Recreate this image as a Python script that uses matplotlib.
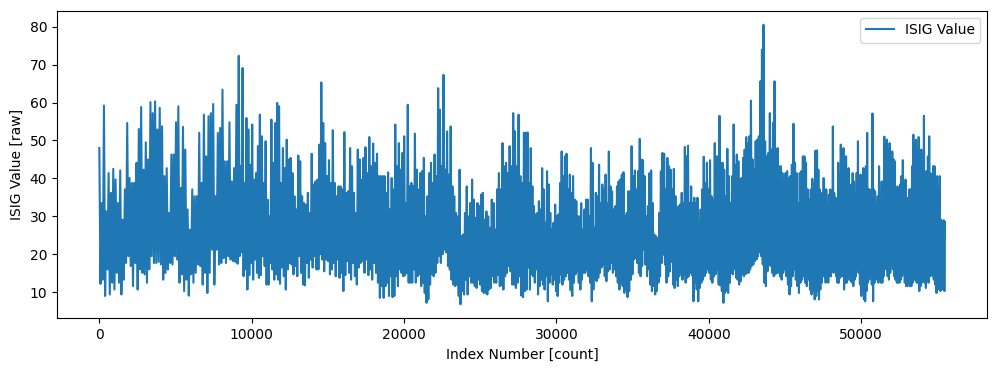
##ISIG trace, values (peak / dip per ~2 px column)
import numpy as np
import matplotlib
matplotlib.use("Agg")
from matplotlib import pyplot as plt

# index boundaries of the six stretches the trace was read in
seg_edges = [0, 9150, 18600, 28100, 37600, 47100, 55500]

# stretch 1 (0 .. 9150)
seg1_tops = [48.0, 33.5, 59.2, 31.3, 41.4, 36.2, 42.5, 39.7, 33.5, 42.1,
             29.1, 37.1, 54.6, 40.1, 38.8, 38.8, 44.1, 53.0, 58.8, 42.3,
             49.5, 45.0, 60.1, 57.2, 60.3, 52.9, 58.6, 53.7, 40.6, 42.7,
             30.9, 46.3, 46.3, 54.8, 59.0, 37.5, 53.6, 47.6, 31.8, 26.5,
             37.1, 35.3, 35.3, 52.0, 38.8, 56.8, 45.8, 56.4, 57.2, 59.6,
             35.3, 52.0, 53.3, 63.4, 44.5, 44.5, 54.8, 39.2, 42.7, 59.4]
seg1_lows = [12.2, 13.3, 9.0, 16.0, 9.4, 12.5, 10.7, 15.1, 12.5, 9.4,
             13.3, 17.7, 19.5, 16.9, 11.6, 17.7, 10.7, 16.0, 15.1, 14.7,
             12.5, 16.0, 19.5, 17.7, 17.7, 18.0, 17.3, 13.3, 15.1, 16.0,
             17.7, 17.3, 19.5, 18.6, 12.5, 14.7, 10.3, 13.3, 9.1, 14.7,
             12.5, 15.1, 17.3, 16.9, 12.0, 15.1, 9.8, 15.1, 21.2, 12.0,
             21.2, 17.3, 17.7, 19.0, 17.7, 19.5, 18.6, 18.2, 18.0, 17.5]

# stretch 2 (9150 .. 18600)
seg2_tops = [72.3, 43.2, 69.1, 38.8, 55.9, 52.9, 43.6, 54.2, 39.7, 41.4,
             48.5, 56.8, 51.1, 38.8, 49.8, 34.4, 30.0, 55.5, 44.1, 54.6,
             59.9, 59.0, 38.8, 48.0, 42.7, 50.2, 45.0, 45.4, 41.4, 35.3,
             31.8, 46.0, 44.5, 35.3, 33.5, 33.1, 36.2, 30.9, 46.5, 38.4,
             39.2, 39.7, 48.9, 65.3, 54.6, 49.3, 40.6, 44.8, 38.8, 52.7,
             38.8, 35.3, 37.9, 37.9, 37.1, 52.2, 36.2, 36.6, 48.0, 43.2,
             36.2, 30.9, 47.6, 45.0, 39.7, 45.4, 48.2, 41.4, 50.9, 43.2,
             49.2, 44.1, 46.5, 40.6, 40.6]
seg2_lows = [19.5, 20.5, 14.2, 16.0, 10.7, 14.5, 17.7, 13.3, 18.6, 15.1,
             13.8, 14.5, 19.5, 16.9, 12.0, 12.0, 17.7, 16.0, 13.3, 14.7,
             13.3, 12.2, 16.5, 14.2, 10.7, 16.0, 17.7, 17.3, 14.7, 16.9,
             14.2, 19.5, 15.1, 12.0, 11.8, 17.7, 13.8, 18.6, 16.5, 19.5,
             16.0, 16.0, 20.0, 18.6, 15.5, 18.6, 18.2, 14.7, 16.0, 17.7,
             14.2, 18.6, 13.8, 15.1, 10.3, 14.5, 18.2, 15.1, 13.3, 17.7,
             14.2, 12.0, 16.5, 17.7, 18.2, 15.1, 18.6, 14.5, 16.0, 13.3,
             17.7, 15.1, 12.5, 8.5, 11.6]

# stretch 3 (18600 .. 28100)
seg3_tops = [40.6, 40.6, 36.2, 41.6, 31.8, 40.1, 37.1, 54.2, 43.2, 49.3,
             42.3, 46.7, 51.1, 33.5, 59.4, 37.9, 38.8, 37.9, 51.8, 42.3,
             37.1, 41.4, 41.9, 45.4, 30.0, 35.3, 41.4, 44.1, 38.8, 46.3,
             40.6, 63.8, 58.1, 43.2, 67.3, 42.3, 52.4, 41.0, 53.7, 37.9,
             35.3, 30.9, 30.0, 42.3, 24.8, 25.2, 30.9, 37.9, 30.0, 33.5,
             39.7, 34.4, 29.6, 33.5, 32.7, 35.7, 36.2, 29.1, 31.3, 30.0,
             27.0, 34.4, 33.5, 26.5, 37.1, 41.4, 37.1, 49.3, 43.2, 44.1,
             41.4, 48.5, 43.2, 57.2, 52.4, 43.2, 56.8, 40.6, 38.8, 52.0,
             52.0]
seg3_lows = [8.5, 11.6, 12.5, 9.0, 14.2, 8.7, 9.0, 14.2, 11.6, 16.0,
             15.1, 14.2, 14.5, 15.1, 12.5, 12.5, 12.5, 16.0, 12.5, 14.2,
             14.7, 11.6, 12.5, 9.8, 7.2, 8.1, 12.0, 14.7, 14.2, 15.1,
             17.7, 19.5, 17.7, 20.0, 21.2, 20.5, 16.9, 16.0, 13.3, 12.0,
             11.6, 12.0, 9.0, 6.8, 10.3, 9.4, 13.3, 9.4, 14.2, 12.5,
             12.5, 11.6, 11.1, 13.3, 12.0, 10.3, 9.8, 9.8, 9.4, 10.7,
             11.1, 14.2, 12.5, 12.5, 14.5, 11.6, 11.8, 10.7, 14.2, 15.1,
             16.9, 15.5, 12.0, 12.0, 11.1, 12.5, 14.2, 9.1, 8.7, 10.3,
             10.7]

# stretch 4 (28100 .. 37600)
seg4_tops = [52.1, 38.8, 48.0, 37.9, 32.7, 30.5, 30.9, 34.0, 31.8, 42.7,
             37.1, 28.3, 41.9, 38.4, 30.9, 26.5, 28.3, 33.1, 30.0, 30.5,
             38.8, 47.1, 40.6, 45.8, 46.5, 37.1, 41.0, 36.2, 40.6, 34.4,
             34.0, 30.0, 30.0, 33.5, 26.5, 31.8, 34.4, 34.4, 30.0, 48.0,
             44.1, 27.0, 36.2, 35.3, 43.6, 33.5, 38.4, 37.1, 41.0, 33.5,
             47.1, 37.9, 36.6, 31.8, 32.7, 37.9, 39.2, 39.7, 41.0, 41.6,
             30.0, 30.9, 36.6, 36.6, 48.5, 40.6, 42.1, 37.1, 41.9, 50.4,
             45.0, 44.8, 40.6, 30.0, 32.7, 41.4, 42.1, 33.5, 25.2, 24.8,
             24.3, 30.9, 41.9, 46.7, 46.5, 37.1, 45.4, 43.2, 42.3]
seg4_lows = [16.5, 10.7, 14.7, 14.2, 12.5, 16.0, 9.4, 11.6, 13.3, 12.0,
             10.7, 14.2, 7.6, 12.5, 14.7, 12.0, 13.3, 10.3, 9.0, 12.5,
             14.7, 12.0, 13.3, 14.2, 15.1, 13.3, 10.5, 9.0, 12.5, 14.7,
             15.5, 12.5, 10.7, 13.3, 15.1, 15.1, 16.0, 14.2, 12.5, 7.6,
             10.7, 13.3, 12.9, 13.8, 15.1, 16.5, 17.3, 14.2, 12.9, 15.5,
             16.0, 17.7, 15.1, 16.0, 14.2, 12.5, 10.7, 12.5, 11.6, 9.8,
             10.7, 8.7, 10.3, 13.3, 14.7, 18.6, 19.0, 17.7, 15.1, 14.2,
             16.9, 21.2, 17.3, 14.2, 16.0, 12.0, 10.3, 11.6, 9.4, 10.3,
             12.5, 14.2, 17.7, 19.9, 17.3, 12.5, 14.2, 15.5, 18.0]

# stretch 5 (37600 .. 47100), holds the 80 spike
seg5_tops = [37.1, 42.5, 35.3, 31.8, 32.7, 33.1, 36.2, 33.5, 48.3, 45.8,
             48.6, 33.5, 37.9, 33.5, 34.9, 33.5, 34.9, 28.3, 31.8, 37.1,
             45.7, 38.8, 44.1, 37.1, 44.8, 35.3, 34.4, 49.3, 45.8, 45.8,
             56.5, 44.1, 44.1, 42.3, 35.3, 47.8, 40.6, 33.5, 40.6, 54.2,
             43.6, 46.3, 44.5, 39.7, 40.1, 45.4, 47.6, 50.9, 49.3, 51.1,
             60.5, 45.0, 42.3, 49.8, 50.2, 51.1, 65.6, 73.9, 80.5, 49.8,
             45.8, 46.7, 57.2, 47.6, 54.6, 65.6, 47.6, 48.0, 43.2, 43.2,
             41.4, 39.7, 41.4, 41.9, 40.1, 40.6, 43.6, 54.4, 44.1, 41.4,
             33.5, 41.4, 41.9, 45.8, 45.8, 44.1, 37.1, 34.4, 37.1, 39.9,
             38.8, 47.3]
seg5_lows = [12.0, 11.1, 13.3, 11.6, 14.2, 15.1, 13.3, 14.7, 12.5, 13.8,
             14.2, 15.1, 14.5, 7.6, 12.5, 10.7, 7.6, 11.1, 12.5, 13.3,
             14.2, 15.1, 16.0, 15.1, 13.3, 12.5, 14.2, 14.7, 16.0, 12.0,
             11.8, 10.3, 7.2, 9.8, 10.3, 9.8, 12.5, 15.1, 14.7, 16.0,
             13.8, 13.3, 12.0, 12.9, 14.7, 14.2, 14.7, 15.1, 15.1, 16.0,
             16.9, 17.3, 18.2, 18.6, 19.5, 20.5, 19.5, 17.3, 12.5, 11.6,
             15.5, 17.3, 16.9, 15.1, 14.2, 14.7, 15.1, 15.1, 14.2, 13.3,
             15.1, 16.0, 14.2, 12.0, 9.4, 11.6, 14.2, 16.0, 13.3, 11.6,
             9.8, 12.5, 13.3, 14.2, 12.5, 11.6, 13.3, 10.7, 9.4, 10.3,
             8.1, 9.0]

# stretch 6 (47100 .. end)
seg6_tops = [47.4, 42.3, 37.1, 34.9, 36.2, 40.1, 37.1, 37.1, 33.5, 35.7,
             37.1, 35.3, 53.7, 36.2, 34.9, 33.5, 44.1, 41.4, 48.9, 47.6,
             48.0, 45.8, 45.8, 42.3, 42.7, 36.2, 38.4, 41.4, 39.2, 36.2,
             41.4, 49.8, 40.6, 41.0, 37.1, 42.7, 42.3, 43.2, 52.0, 37.1,
             37.1, 33.5, 57.1, 37.1, 36.6, 33.5, 35.3, 43.2, 35.3, 39.2,
             38.8, 51.0, 49.3, 50.2, 47.6, 49.3, 45.8, 47.1, 45.0, 44.5,
             37.1, 37.9, 37.1, 38.4, 40.6, 44.8, 38.8, 39.7, 33.5, 34.9,
             37.1, 37.1, 43.2, 51.5, 49.3, 50.2, 47.6, 50.9, 43.2, 47.6,
             41.4, 56.5, 37.9, 41.9, 45.8, 51.1, 41.4, 40.6, 43.2, 43.2,
             37.1, 40.6, 37.9, 40.6, 29.1, 28.7, 29.0, 28.5]
seg6_lows = [10.3, 8.1, 10.7, 12.5, 14.2, 14.2, 12.5, 13.3, 12.5, 14.2,
             14.2, 16.0, 15.1, 16.0, 14.2, 12.5, 12.5, 13.8, 14.2, 14.2,
             10.7, 12.5, 12.5, 13.3, 14.2, 12.9, 12.5, 11.6, 13.3, 14.2,
             16.0, 15.1, 12.0, 9.0, 10.7, 8.1, 7.6, 10.3, 12.5, 13.3,
             14.2, 12.0, 7.6, 12.5, 14.2, 13.3, 12.5, 13.3, 12.5, 12.5,
             14.2, 17.7, 16.0, 14.2, 13.3, 15.1, 16.9, 16.0, 14.2, 13.3,
             12.5, 12.5, 12.5, 13.3, 14.2, 15.1, 12.5, 11.6, 11.6, 12.5,
             11.6, 11.6, 12.5, 13.3, 13.3, 12.5, 12.5, 10.3, 11.6, 12.5,
             13.3, 12.5, 11.1, 13.3, 12.5, 14.2, 15.1, 14.2, 13.3, 12.0,
             9.8, 11.6, 10.7, 10.3, 10.7, 11.6, 10.3]

segments = [(seg1_tops, seg1_lows), (seg2_tops, seg2_lows), (seg3_tops, seg3_lows),
            (seg4_tops, seg4_lows), (seg5_tops, seg5_lows), (seg6_tops, seg6_lows)]

# build the trace: peak, dip, peak, dip ... spread over each stretch
index_parts = []
isig_parts = []
for k, (tops, lows) in enumerate(segments):
    vals = np.empty(len(tops) + len(lows))
    vals[0::2] = tops
    vals[1::2] = lows
    last = k == len(segments) - 1
    idx = np.linspace(seg_edges[k], seg_edges[k + 1], len(vals), endpoint=last)
    index_parts.append(idx)
    isig_parts.append(vals)
index_num = np.concatenate(index_parts)
isig = np.concatenate(isig_parts)

plt.figure(figsize=(9.97, 3.71), dpi=100)
plt.plot(index_num, isig, label='ISIG Value')
plt.xlabel('Index Number [count]')
plt.ylabel('ISIG Value [raw]')
plt.legend(loc='upper right')
plt.subplots_adjust(left=0.0572, right=0.9903, bottom=0.142, top=0.971)
plt.savefig('out.png', dpi=100)
